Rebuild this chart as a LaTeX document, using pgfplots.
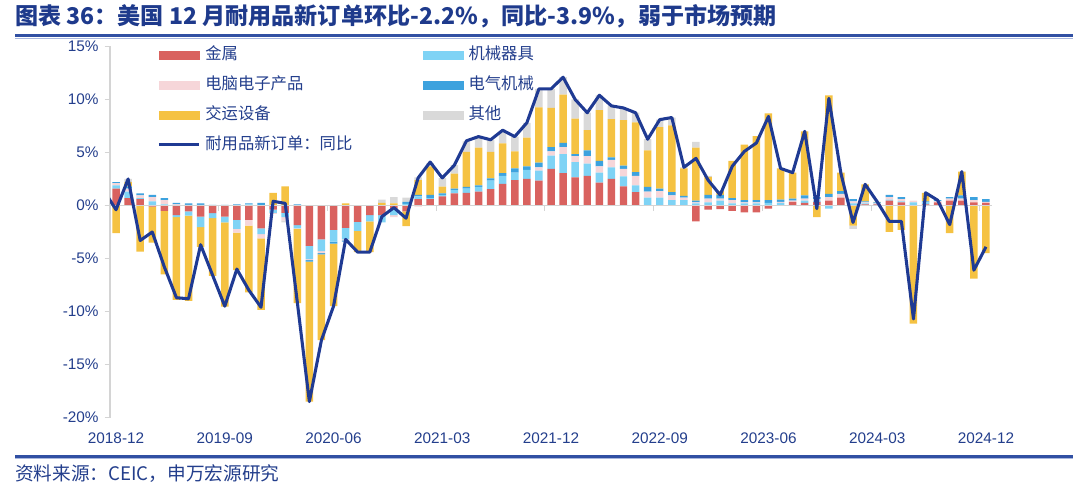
\documentclass[border=0pt]{standalone}
\usepackage{pgfplots}
\pgfplotsset{compat=1.18}
\usepackage{pgfplotstable}
\usepackage{fontspec}
\setmainfont{Noto Sans CJK SC}
\newfontfamily\tickfont{Liberation Sans}

\definecolor{cMetal}{HTML}{D9625F}
\definecolor{cMach}{HTML}{7FD3F5}
\definecolor{cComp}{HTML}{F6D6D9}
\definecolor{cElec}{HTML}{3DA2DE}
\definecolor{cTrans}{HTML}{F5C242}
\definecolor{cOther}{HTML}{D9D9D9}
\definecolor{cLine}{HTML}{1F3A93}
\definecolor{cText}{HTML}{233E8C}
\definecolor{cTitle}{HTML}{1E3A8C}
\definecolor{cRule}{HTML}{3150A3}
\definecolor{cRuleL}{HTML}{A9B7DE}
\definecolor{cAxis}{HTML}{D4D4D4}

\pgfplotstableread{
i metal mach comp elec trans other
0 1.6 0.3 0.2 0.1 -2.6 0
1 0.7 0.6 0.3 0.2 0.4 0.3
2 0.6 0.1 0.25 0.2 -4.35 0
3 -0.1 0.4 0.4 0.2 -3.4 0
4 -0.5 0.1 0.4 0.2 -6.0 0
5 -0.9 -0.2 0.1 0.15 -7.8 0
6 -0.55 -0.4 0.05 0.15 -8.05 0
7 -1.05 -1.0 0.05 0.15 -1.85 0
8 -0.72 -0.47 0 0.05 -5.45 0
9 -1.05 -0.55 0 0.05 -7.95 0
10 -1.35 -0.85 -0.35 0.1 -3.55 0
11 -1.35 0.1 -0.55 0.1 -6.3 0
12 -2.15 -0.55 -0.4 0.25 -6.75 0
13 -0.4 -0.3 -0.1 0 1.2 0
14 -0.7 -0.4 -0.3 0 1.8 -0.2
15 -1.85 -0.3 -0.05 0.1 -7.0 0
16 -3.8 -1.25 -0.1 -0.15 -13.2 0
17 -3.2 -1.1 -0.2 -0.1 -8.1 0
18 -2.3 -1.1 0 -0.2 -5.9 0
19 -2.1 -1.1 -0.1 -0.1 0.2 0
20 -1.55 -0.85 0 0 -2.0 0
21 -0.9 -0.6 0 0 -2.9 0
22 -0.9 -0.7 0 0 0.25 0.3
23 -0.3 -0.6 -0.2 0 0.2 0.6
24 -0.55 0.15 0 0.2 -1.4 0.4
25 0.6 0.25 -0.1 0.15 1.4 0.25
26 0.6 0.1 0 0.3 2.7 0.3
27 0.85 0.15 0 0.15 0.63 0.8
28 1.15 0.3 0 0.15 1.4 0.8
29 1.2 0.4 0 0.15 3.3 1.0
30 1.3 0.45 0 0.15 3.55 1.0
31 1.55 0.8 0 0.2 2.5 1.15
32 2.05 0.75 0 0.25 2.8 1.2
33 2.4 0.7 0 0.4 1.6 1.4
34 2.5 0.85 0 0.35 2.7 1.4
35 2.35 0.95 0.3 0.45 5.2 1.75
36 3.45 1.25 0.4 0.4 3.7 1.8
37 3.05 1.8 0.65 0.4 4.55 1.65
38 2.65 1.45 0.55 0.2 3.35 1.8
39 2.8 1.15 0.7 0.55 1.9 1.65
40 2.15 0.95 0.6 0.5 4.8 1.4
41 2.5 1.1 0.7 0.25 3.6 1.25
42 1.8 0.95 0.7 0.3 4.3 1.15
43 1.25 0.65 0.9 0.35 4.7 0.9
44 0 0.75 0.55 0.45 3.45 1.05
45 0 0.75 0.6 0.25 5.8 0.7
46 0 0.5 0.45 0.3 6.3 0.75
47 0 0.5 0.25 0.15 2.6 0.1
48 -1.5 0.2 0.1 0.15 5.0 0.55
49 -0.4 0.3 0.35 0.35 1.7 0.1
50 -0.35 0.45 0.2 0.35 0.35 0
51 -0.5 0.2 0.3 0.2 3.5 0
52 -0.65 0.2 0.1 0.2 5.25 0
53 -0.65 0.2 0.1 0.2 6.05 0
54 -0.3 0.25 0 0.25 8.2 0
55 0 0.25 0.1 0.2 2.95 0
56 0.35 0 0.1 0.2 2.45 0
57 0.25 0.2 0.2 0.3 6.05 0
58 0.35 0.1 0.15 0.2 -1.1 0
59 0.45 -0.3 0.35 0.3 9.3 0
60 0.75 0 0.35 0.25 1.75 0
61 0 0.2 0.2 0.2 -1.9 -0.3
62 0.1 0.1 0.1 0.1 1.6 0
63 0.1 0.05 0.05 0.1 0.05 0
64 0.45 0.1 0.25 0.2 -2.5 0
65 0.3 0.1 0.2 0.2 -2.3 0
66 0 0.3 0.15 0 -11.15 0
67 0.1 0.2 0 0.1 0.8 0
68 0.3 0 0.1 0.1 0 0
69 0.45 0 0.2 0.15 -2.6 0
70 0.45 0 0.2 0.3 2.25 0
71 0.3 0 0.2 0.3 -6.9 0
72 0.25 0 0.1 0.25 -4.5 0
}\bars

\pgfplotstableread{
i yoy
-1 1.4
0 -0.4
1 2.5
2 -3.3
3 -2.5
4 -5.8
5 -8.7
6 -8.8
7 -3.7
8 -6.6
9 -9.5
10 -6.0
11 -8.0
12 -9.6
13 0.4
14 0.2
15 -9.1
16 -18.5
17 -12.7
18 -9.5
19 -3.2
20 -4.4
21 -4.4
22 -1.05
23 -0.2
24 -1.2
25 2.6
26 4.1
27 2.6
28 3.8
29 6.1
30 6.5
31 6.2
32 7.1
33 6.5
34 7.8
35 11.0
36 11.0
37 12.1
38 10.0
39 8.75
40 10.4
41 9.4
42 9.2
43 8.75
44 6.25
45 8.1
46 8.3
47 3.6
48 4.45
49 2.4
50 1.0
51 3.7
52 5.1
53 5.9
54 8.4
55 3.5
56 3.1
57 7.0
58 -0.3
59 10.1
60 3.0
61 -1.6
62 2.0
63 0.35
64 -1.5
65 -1.5
66 -10.7
67 1.2
68 0.5
69 -1.8
70 3.2
71 -6.1
72 -3.9
}\yoy

\pgfplotsset{
  base/.style={width=661.5pt, height=278.25pt, scale only axis,
    xmin=-0.5, xmax=72.5, ymin=-20, ymax=15,
    at={(82.5pt,61.875pt)}, anchor=south west},
  barax/.style={base, hide axis, ybar stacked, bar width=0.62},
}

\begin{document}
\begin{tikzpicture}
\useasboundingbox (0,0) rectangle (810pt,375pt);

% title and rules
\node[anchor=west, text=cTitle, font=\bfseries\fontsize{17.3}{19}\selectfont, inner sep=0pt]
  at (11.25pt,362.5pt) {图表 36：美国 12 月耐用品新订单环比-2.2\%，同比-3.9\%，弱于市场预期};
\draw[cRule, line width=2.25pt] (11.25pt,348pt) -- (805pt,348pt);
\draw[cRuleL, line width=0.75pt] (11.25pt,346pt) -- (805pt,346pt);
\draw[cRule, line width=2.25pt] (11.25pt,33pt) -- (805pt,33pt);
\draw[cRuleL, line width=0.75pt] (11.25pt,31pt) -- (805pt,31pt);
\node[anchor=west, text=cText, font=\fontsize{14}{16}\selectfont, inner sep=0pt]
  at (11.25pt,19.5pt) {资料来源：CEIC，申万宏源研究};

% negative parts
\begin{axis}[barax]
\addplot[fill=cMetal, draw=none] table[x=i, y expr={min(\thisrow{metal},0)}] {\bars};
\addplot[fill=cMach, draw=none] table[x=i, y expr={min(\thisrow{mach},0)}] {\bars};
\addplot[fill=cComp, draw=none] table[x=i, y expr={min(\thisrow{comp},0)}] {\bars};
\addplot[fill=cElec, draw=none] table[x=i, y expr={min(\thisrow{elec},0)}] {\bars};
\addplot[fill=cTrans, draw=none] table[x=i, y expr={min(\thisrow{trans},0)}] {\bars};
\addplot[fill=cOther, draw=none] table[x=i, y expr={min(\thisrow{other},0)}] {\bars};
\end{axis}

% positive parts
\begin{axis}[barax]
\addplot[fill=cMetal, draw=none] table[x=i, y expr={max(\thisrow{metal},0)}] {\bars};
\addplot[fill=cMach, draw=none] table[x=i, y expr={max(\thisrow{mach},0)}] {\bars};
\addplot[fill=cComp, draw=none] table[x=i, y expr={max(\thisrow{comp},0)}] {\bars};
\addplot[fill=cElec, draw=none] table[x=i, y expr={max(\thisrow{elec},0)}] {\bars};
\addplot[fill=cTrans, draw=none] table[x=i, y expr={max(\thisrow{trans},0)}] {\bars};
\addplot[fill=cOther, draw=none] table[x=i, y expr={max(\thisrow{other},0)}] {\bars};
\end{axis}

% main axis with line, ticks, legend
\begin{axis}[base,
  axis lines=left, axis line style={-},
  x axis line style={draw=none},
  y axis line style={draw=cAxis, line width=0.8pt},
  ytick={-20,-15,...,15},
  yticklabel={\pgfmathprintnumber{\tick}\%},
  xtick={0,9,...,72},
  xticklabels={2018-12,2019-09,2020-06,2021-03,2021-12,2022-09,2023-06,2024-03,2024-12},
  tick align=outside, major tick length=4pt,
  y tick style={draw=cAxis, line width=0.8pt},
  x tick style={draw=none},
  extra y ticks={0}, extra y tick labels={},
  extra y tick style={grid=major, major grid style={draw=cAxis, line width=1pt}, tick style={draw=none}},
  /pgf/number format/assume math mode=true,
  ticklabel style={font=\tickfont\fontsize{11.5}{13}\selectfont, text=cText},
  xticklabel style={yshift=-4pt},
  yticklabel style={xshift=-1pt},
  legend columns=2, legend cell align=left,
  legend style={at={(0.0533,1)}, anchor=north west, draw=none, fill=none,
    inner sep=0pt, row sep=10.2pt,
    font=\fontsize{12.25}{14}\selectfont, text=cText,
    nodes={inner sep=0pt, text height=9.5pt, text depth=2.8pt},
    /tikz/every odd column/.append style={column sep=3.75pt},
    /tikz/every even column/.append style={column sep=53pt}},
]
\pgfplotsinvokeforeach{8.5,17.5,26.5,35.5,44.5,53.5,62.5,71.5}{
  \draw[cAxis, line width=0.8pt] (axis cs:#1,0) -- ([yshift=-4pt]axis cs:#1,0);
}
\addlegendimage{legend image code/.code={\fill[cMetal] (0pt,-2.9pt) rectangle (30pt,2.9pt);}}
\addlegendentry{金属}
\addlegendimage{legend image code/.code={\fill[cMach] (0pt,-2.9pt) rectangle (30pt,2.9pt);}}
\addlegendentry{机械器具}
\addlegendimage{legend image code/.code={\fill[cComp] (0pt,-2.9pt) rectangle (30pt,2.9pt);}}
\addlegendentry{电脑电子产品}
\addlegendimage{legend image code/.code={\fill[cElec] (0pt,-2.9pt) rectangle (30pt,2.9pt);}}
\addlegendentry{电气机械}
\addlegendimage{legend image code/.code={\fill[cTrans] (0pt,-2.9pt) rectangle (30pt,2.9pt);}}
\addlegendentry{交运设备}
\addlegendimage{legend image code/.code={\fill[cOther] (0pt,-2.9pt) rectangle (30pt,2.9pt);}}
\addlegendentry{其他}
\addplot[color=cLine, line width=2.3pt, line join=round, mark=none,
  legend image code/.code={\draw[cLine, line width=2.3pt] (0pt,0pt) -- (30pt,0pt);}]
  table[x=i, y=yoy] {\yoy};
\addlegendentry{耐用品新订单：同比}
\end{axis}
\end{tikzpicture}
\end{document}
